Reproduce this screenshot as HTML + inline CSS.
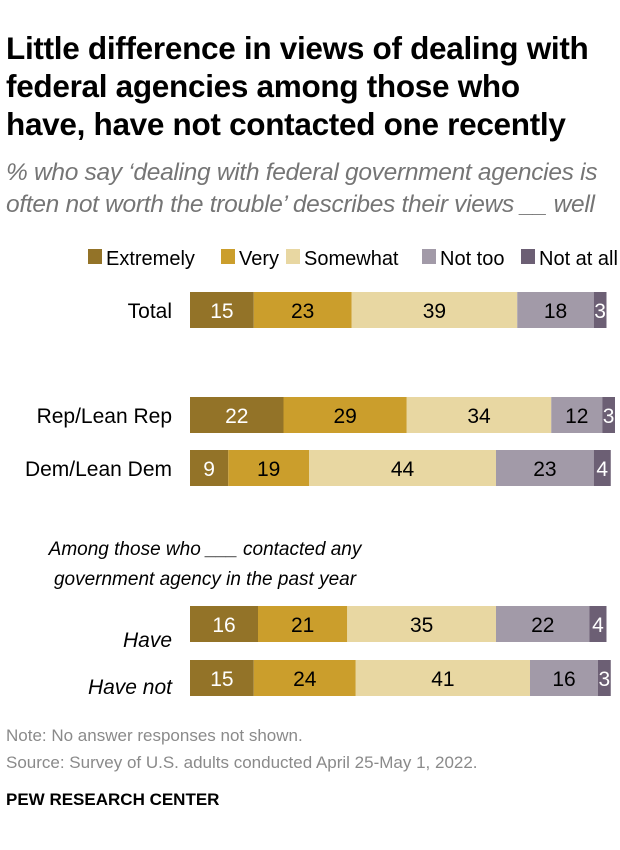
<!DOCTYPE html>
<html><head><meta charset="utf-8"><style>
body{margin:0;background:#fff;font-family:"Liberation Sans",sans-serif;}
#c{position:relative;width:620px;height:850px;overflow:hidden}
.t{position:absolute;white-space:nowrap}
</style></head><body><div id="c">
<div class="t" style="left:6px;top:29px;font-size:31.5px;font-weight:bold;line-height:38px;color:#000;letter-spacing:-0.3px">Little difference in views of dealing with<br>federal agencies among those who<br>have, have not contacted one recently</div>
<div class="t" style="left:6px;top:157px;font-size:24.5px;font-style:italic;line-height:32px;color:#757575;letter-spacing:-0.3px">% who say ‘dealing with federal government agencies is<br>often not worth the trouble’ describes their views __ well</div>
<div class="t" style="left:10px;top:535px;font-size:19px;font-style:italic;line-height:30px;color:#000;text-align:center;width:390px">Among those who ___ contacted any<br>government agency in the past year</div>
<div class="t" style="left:6px;top:722px;font-size:17px;color:#8a8a8a;line-height:27px">Note: No answer responses not shown.<br>Source: Survey of U.S. adults conducted April 25-May 1, 2022.</div>
<div class="t" style="left:6px;top:790px;font-size:17px;font-weight:bold;color:#000">PEW RESEARCH CENTER</div>
<svg id="s" width="620" height="850" style="position:absolute;left:0;top:0"></svg>
</div>
<script>
const categories=["Total","Rep/Lean Rep","Dem/Lean Dem","Have","Have not"];
const extremely=[15,22,9,16,15];
const very=[23,29,19,21,24];
const somewhat=[39,34,44,35,41];
const notToo=[18,12,23,22,16];
const notAtAll=[3,3,4,4,3];
const seriesNames=["Extremely","Very","Somewhat","Not too","Not at all"];
const colors=["#937328","#cb9e2c","#e8d7a2","#a29aa8","#6c5f74"];
const textColors=["#fff","#000","#000","#000","#fff"];
const rowTops=[292,397,450,606,660];
const labelShift=[0,0,0,15,8];
const italicRows=[false,false,false,true,true];
const x0=190, unit=4.25, barH=36;
const xs=v=>v*unit;
const svg=document.getElementById('s');
const NS="http://www.w3.org/2000/svg";
function mk(t,a){const e=document.createElementNS(NS,t);for(const k in a)e.setAttribute(k,a[k]);svg.appendChild(e);return e;}
const series=[extremely,very,somewhat,notToo,notAtAll];
categories.forEach((cat,i)=>{
  const lab=mk('text',{x:172,y:rowTops[i]+barH/2+8+labelShift[i],'text-anchor':'end','font-size':21,'font-family':'Liberation Sans, sans-serif','font-style':italicRows[i]?'italic':'normal'});
  lab.textContent=cat;
  
  
  let x=x0;
  series.forEach((s,j)=>{
    const w=xs(s[i]);
    const r=mk('rect',{x:x,y:rowTops[i],width:w,height:barH,fill:colors[j]});
    
    
    const t=mk('text',{x:x+w/2,y:rowTops[i]+barH/2+8,'text-anchor':'middle','font-size':21,'font-family':'Liberation Sans, sans-serif',fill:textColors[j]});
    t.textContent=s[i];
    
    
    x+=w;
  });
});
const legX=[88,221,286,422,521];
seriesNames.forEach((n,j)=>{
  const r=mk('rect',{x:legX[j],y:249,width:14,height:15,fill:colors[j]});
  
  
  const t=mk('text',{x:legX[j]+18,y:265,'font-size':20,'font-family':'Liberation Sans, sans-serif',fill:'#000'});
  t.textContent=n;
  
  
});
</script></body></html>
